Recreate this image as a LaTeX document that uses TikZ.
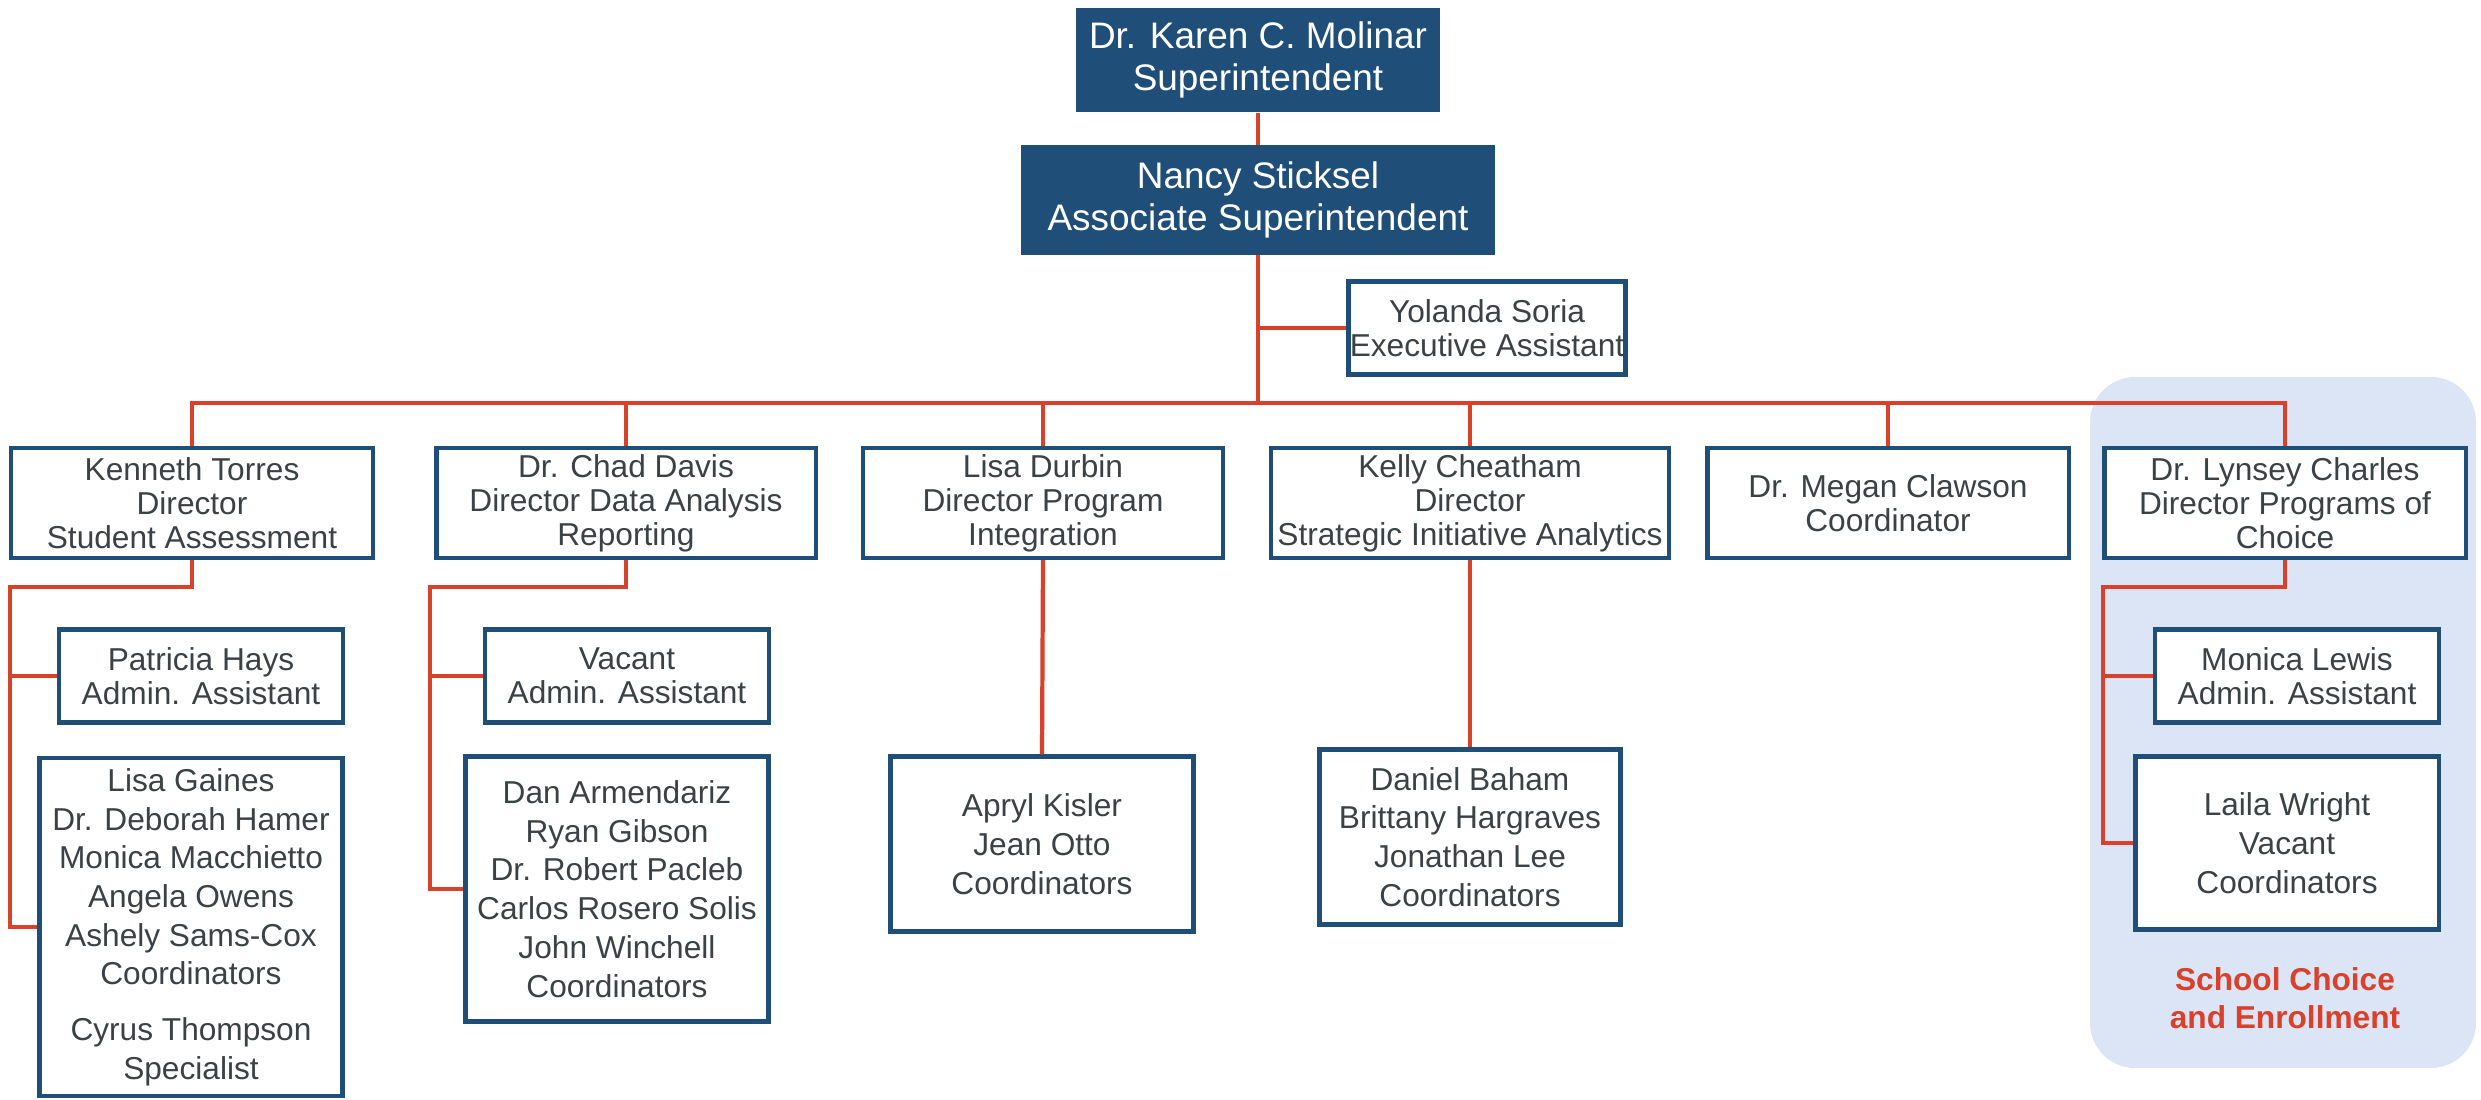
\documentclass[tikz,border=0pt]{standalone}
\usepackage{fontspec}
\setmainfont{Liberation Sans}
\definecolor{orgblue}{HTML}{1F4E79}
\definecolor{linkred}{HTML}{D9412B}
\definecolor{textgray}{HTML}{3A4246}
\definecolor{choicebg}{HTML}{DCE5F6}
\tikzset{
  head/.style={fill=orgblue, text=white, align=center, inner sep=0pt,
    font={\fontsize{10.5}{11.7}\selectfont}},
  person/.style={draw=orgblue, line width=1.2pt, fill=white, text=textgray,
    align=center, inner sep=0pt, font={\fontsize{9}{9.7}\selectfont}},
  crew/.style={person, font={\fontsize{9}{11}\selectfont}},
  link/.style={draw=linkred, line width=1.2pt},
}
\begin{document}
\begin{tikzpicture}[x=0.01cm, y=-0.01cm]
    \useasboundingbox (0,0) rectangle (2481,1100);

    % School choice panel
    \fill[choicebg, rounded corners=0.45cm] (2090,377) rectangle (2476,1068);
    \node[text=linkred, align=center, font={\fontsize{9}{10.8}\selectfont\bfseries}] (choice) at (2285,998) {School Choice\\and Enrollment};

    % Top of the chart
    \node[head, minimum width=3.64cm, minimum height=1.04cm] (molinar) at (1258,60) {Dr. Karen C. Molinar\\Superintendent};
    \node[head, minimum width=4.74cm, minimum height=1.09cm] (sticksel) at (1258,200) {Nancy Sticksel\\Associate Superintendent};
    \node[person, minimum width=2.77cm, minimum height=0.93cm] (soria) at (1487,328) {Yolanda Soria\\Executive Assistant};

    % Directors
    \node[person, minimum width=3.62cm, minimum height=1.10cm] (torres) at (192,503) {Kenneth Torres\\Director\\Student Assessment};
    \node[person, minimum width=3.79cm, minimum height=1.10cm] (davis) at (626,503) {Dr. Chad Davis\\Director Data Analysis\\Reporting};
    \node[person, minimum width=3.60cm, minimum height=1.10cm] (durbin) at (1043,503) {Lisa Durbin\\Director Program\\Integration};
    \node[person, minimum width=3.98cm, minimum height=1.10cm] (cheatham) at (1470,503) {Kelly Cheatham\\Director\\Strategic Initiative Analytics};
    \node[person, minimum width=3.61cm, minimum height=1.10cm] (clawson) at (1888,503) {Dr. Megan Clawson\\Coordinator};
    \node[person, minimum width=3.61cm, minimum height=1.10cm] (charles) at (2285,503) {Dr. Lynsey Charles\\Director Programs of\\Choice};

    % Staff under the directors
    \node[person, minimum width=2.84cm, minimum height=0.93cm] (hays) at (201,676) {Patricia Hays\\Admin. Assistant};
    \node[crew, minimum width=3.03cm, minimum height=3.38cm] (gaines) at (191,927) {Lisa Gaines\\Dr. Deborah Hamer\\Monica Macchietto\\Angela Owens\\Ashely Sams-Cox\\Coordinators\\[4.8pt]Cyrus Thompson\\Specialist};
    \node[person, minimum width=2.84cm, minimum height=0.93cm] (vacant) at (627,676) {Vacant\\Admin. Assistant};
    \node[crew, minimum width=3.03cm, minimum height=2.65cm] (armendariz) at (617,889) {Dan Armendariz\\Ryan Gibson\\Dr. Robert Pacleb\\Carlos Rosero Solis\\John Winchell\\Coordinators};
    \node[crew, minimum width=3.03cm, minimum height=1.75cm] (kisler) at (1042,844) {Apryl Kisler\\Jean Otto\\Coordinators};
    \node[crew, minimum width=3.01cm, minimum height=1.75cm] (baham) at (1470,837) {Daniel Baham\\Brittany Hargraves\\Jonathan Lee\\Coordinators};
    \node[person, minimum width=2.84cm, minimum height=0.93cm] (lewis) at (2297,676) {Monica Lewis\\Admin. Assistant};
    \node[crew, minimum width=3.03cm, minimum height=1.73cm] (wright) at (2287,843) {Laila Wright\\Vacant\\Coordinators};

    % Reporting lines
    \coordinate (bus) at (1258,403);
    \draw[link] (molinar.south) -- (sticksel.north);
    \draw[link] (sticksel.south) -- (sticksel.south |- bus);
    \draw[link] (sticksel.south |- soria.west) -- (soria.west);
    \draw[link] (torres.north) -- (torres.north |- bus) -- (charles.north |- bus) -- (charles.north);
    \foreach \d in {davis,durbin,cheatham,clawson}
        \draw[link] (\d.north) -- (\d.north |- bus);

    \coordinate (torresturn) at (10,587);
    \coordinate (davisturn) at (430,587);
    \coordinate (charlesturn) at (2103,587);
    \draw[link] (torres.south) |- (torresturn) |- (gaines.west);
    \draw[link] (torresturn |- hays.west) -- (hays.west);
    \draw[link] (davis.south) |- (davisturn) |- (armendariz.west);
    \draw[link] (davisturn |- vacant.west) -- (vacant.west);
    \draw[link] (charles.south) |- (charlesturn) |- (wright.west);
    \draw[link] (charlesturn |- lewis.west) -- (lewis.west);
    \draw[link] (durbin.south) -- (kisler.north);
    \draw[link] (cheatham.south) -- (baham.north);
\end{tikzpicture}
\end{document}
